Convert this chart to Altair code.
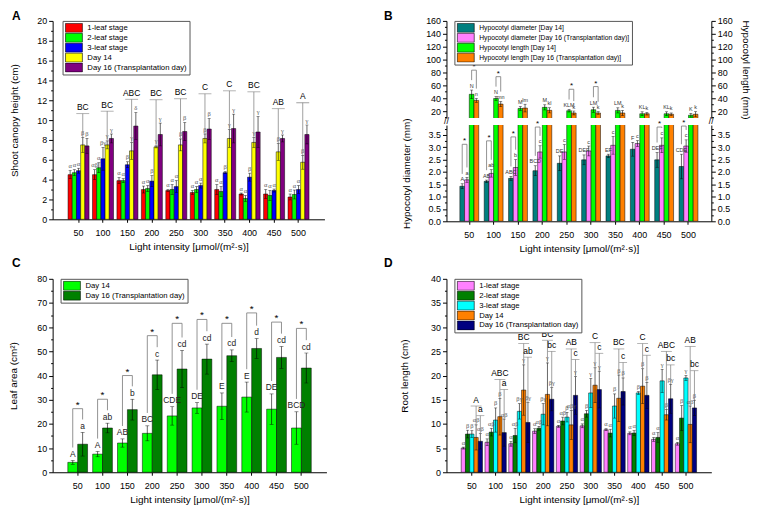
import altair as alt
import pandas as pd

FONT = "Liberation Sans"
GFONT = "Liberation Serif"
LIGHT = ["50", "100", "150", "200", "250", "300", "350", "400", "450", "500"]
X_TITLE = "Light intensity [μmol/(m²·s)]"
RECT = "M-1.7,-0.9L1.7,-0.9L1.7,0.9L-1.7,0.9Z"

# ---------------- Panel A : shoot canopy height ----------------
A_SERIES = ["1-leaf stage", "2-leaf stage", "3-leaf stage", "Day 14", "Day 16 (Transplantation day)"]
A_COLORS = ["#FF0000", "#00FF00", "#0000FF", "#FFFF00", "#800080"]
A_1LEAF = [4.5, 4.5, 3.9, 3.0, 2.9, 2.7, 3.0, 2.55, 2.55, 2.25]
A_1LEAF_ERR = [0.4, 0.5, 0.3, 0.35, 0.1, 0.2, 0.5, 0.1, 0.45, 0.3]
A_2LEAF = [4.7, 5.2, 3.9, 3.1, 3.0, 3.0, 2.8, 2.1, 2.4, 2.5]
A_2LEAF_ERR = [0.3, 0.5, 0.2, 0.3, 0.5, 0.3, 0.5, 0.3, 0.5, 0.45]
A_3LEAF = [4.9, 6.1, 5.5, 3.85, 3.3, 3.4, 4.7, 4.25, 2.9, 3.0]
A_3LEAF_ERR = [0.25, 1.15, 0.3, 0.55, 0.6, 0.25, 0.1, 0.4, 0.15, 0.4]
A_D14 = [7.5, 7.5, 6.9, 7.3, 7.5, 8.15, 8.15, 7.75, 6.8, 5.75]
A_D14_ERR = [0.75, 0.4, 0.85, 0.1, 0.6, 0.45, 0.9, 0.5, 0.85, 0.7]
A_D16 = [7.4, 8.15, 9.4, 8.55, 8.85, 9.1, 9.15, 8.8, 8.15, 8.55]
A_D16_ERR = [0.75, 0.45, 1.35, 1.15, 0.9, 1.05, 1.45, 1.55, 0.35, 0.95]
A_G_1LEAF = ["α", "αβ", "α", "α", "α", "α", "α", "α", "α", "α"]
A_G_2LEAF = ["α", "α", "α", "α", "α", "α", "α", "α", "α", "α"]
A_G_3LEAF = ["α", "βγ", "β", "β", "α", "α", "β", "β", "α", "α"]
A_G_D14 = ["β", "γ", "γ", "γ", "β", "β", "γ", "γ", "β", "β"]
A_G_D16 = ["β", "γ", "δ", "γ", "β", "β", "γ", "γ", "γ", "γ"]
A_GROUP = ["BC", "BC", "ABC", "BC", "BC", "C", "C", "BC", "AB", "A"]
A_GROUP_TOP = [10.65, 10.9, 12.1, 12.05, 12.15, 12.65, 12.95, 12.85, 11.15, 11.75]

# ---------------- Panel B : hypocotyl diameter / length ----------------
B_SERIES = ["Hypocotyl diameter [Day 14]", "Hypocotyl diameter [Day 16 (Transplantation day)]",
            "Hypocotyl length [Day 14]", "Hypocotyl length [Day 16 (Transplantation day)]"]
B_COLORS = ["#007F7F", "#FF80FF", "#00FF00", "#FF8000"]
B_DIAM14 = [1.42, 1.62, 1.74, 2.05, 2.35, 2.49, 2.65, 2.92, 2.49, 2.22]
B_DIAM14_ERR = [0.1, 0.05, 0.08, 0.2, 0.3, 0.2, 0.07, 0.28, 0.3, 0.5]
B_DIAM16 = [1.68, 1.94, 2.18, 2.81, 2.81, 2.85, 3.08, 3.15, 3.08, 3.05]
B_DIAM16_ERR = [0.1, 0.15, 0.32, 0.25, 0.3, 0.2, 0.36, 0.12, 0.3, 0.25]
B_LEN14 = [46.0, 39.5, 24.0, 25.7, 20.5, 22.0, 21.0, 15.8, 15.8, 13.5]
B_LEN14_ERR = [6.6, 3.0, 3.0, 4.0, 2.0, 4.0, 4.0, 3.0, 3.0, 3.0]
B_LEN16 = [36.5, 30.8, 24.6, 21.1, 17.0, 17.0, 17.0, 15.8, 15.0, 15.0]
B_LEN16_ERR = [3.0, 4.0, 6.0, 4.0, 3.0, 2.0, 4.0, 2.0, 2.0, 4.0]
B_LAB_D14 = ["A", "AB", "ABC", "BCD", "DE", "DEF", "EF", "F", "DEF", "CDE"]
B_LAB_D16 = ["a", "ab", "b", "c", "c", "c", "c", "c", "c", "c"]
B_LAB_L14 = ["N", "N", "M", "M", "KLM", "LM", "LM", "KL", "KL", "K"]
B_LAB_L16 = ["n", "mn", "lm", "kl", "k", "k", "k", "k", "k", "k"]
B_SIG_DIAM_AT = ["50", "100", "150", "200", "450", "500"]
B_SIG_DIAM_TOP = [3.12, 3.26, 3.42, 3.82, 3.82, 3.86]
B_SIG_LEN_AT = ["50", "100", "250", "300"]
B_SIG_LEN_TOP = [83.5, 73.4, 53.8, 58.0]

# ---------------- Panel C : leaf area ----------------
C_SERIES = ["Day 14", "Day 16 (Transplantation day)"]
C_COLORS = ["#00FF00", "#008000"]
C_D14 = [4.1, 7.5, 12.1, 16.1, 23.3, 26.6, 27.3, 31.1, 26.1, 18.3]
C_D14_ERR = [0.8, 1.1, 1.7, 3.1, 3.8, 2.2, 5.5, 6.2, 6.3, 6.7]
C_D16 = [11.6, 18.3, 25.9, 40.3, 42.7, 46.8, 48.2, 51.2, 47.5, 43.1]
C_D16_ERR = [4.9, 2.0, 4.3, 6.1, 7.7, 6.2, 2.4, 4.1, 4.5, 6.2]
C_LAB14 = ["A", "A", "AB", "BC", "CDE", "DE", "E", "E", "DE", "BCD"]
C_LAB16 = ["a", "ab", "b", "c", "cd", "cd", "cd", "d", "cd", "cd"]
C_SIG_TOP = [26.3, 30.2, 40.0, 56.5, 61.6, 63.2, 61.6, 65.9, 62.1, 59.5]

# ---------------- Panel D : root length ----------------
D_SERIES = ["1-leaf stage", "2-leaf stage", "3-leaf stage", "Day 14", "Day 16 (Transplantation day)"]
D_COLORS = ["#FF80FF", "#008000", "#00FFFF", "#FF8000", "#000080"]
D_1LEAF = [5.0, 6.2, 5.9, 8.5, 9.5, 9.6, 8.8, 8.05, 6.8, 5.9]
D_1LEAF_ERR = [0.2, 0.7, 0.5, 0.5, 0.2, 0.4, 0.2, 0.3, 0.4, 0.3]
D_2LEAF = [7.9, 8.3, 7.6, 9.1, 10.6, 12.1, 8.1, 8.1, 7.2, 11.2]
D_2LEAF_ERR = [0.8, 0.8, 1.5, 0.4, 0.8, 0.7, 0.8, 0.5, 1.0, 2.6]
D_3LEAF = [7.9, 10.8, 12.6, 12.0, 11.4, 16.4, 13.7, 16.4, 18.9, 19.5]
D_3LEAF_ERR = [0.7, 2.5, 1.6, 2.2, 1.0, 3.0, 2.5, 0.3, 2.4, 0.5]
D_D14 = [7.2, 11.5, 17.0, 16.1, 9.8, 18.0, 15.3, 17.8, 11.9, 9.9]
D_D14_ERR = [2.6, 3.8, 5.2, 6.5, 3.0, 3.6, 4.8, 3.6, 1.1, 3.8]
D_D16 = [6.4, 8.2, 10.3, 15.1, 15.9, 17.1, 16.7, 15.9, 15.2, 13.3]
D_D16_ERR = [1.6, 2.8, 4.1, 2.4, 3.9, 3.8, 2.8, 2.7, 3.0, 1.6]
D_G_1LEAF = ["α", "α", "α", "α", "α", "α", "α", "α", "α", "α"]
D_G_2LEAF = ["β", "αβ", "αβ", "αβ", "αβ", "β", "α", "α", "α", "β"]
D_G_3LEAF = ["β", "β", "βγ", "βγ", "β", "γ", "β", "β", "γ", "γ"]
D_G_D14 = ["αβ", "β", "γ", "γ", "αβγ", "γ", "β", "β", "β", "αβ"]
D_G_D16 = ["αβ", "αβ", "βγ", "βγ", "γ", "γ", "β", "β", "βγ", "β"]
D_UPPER = ["A", "ABC", "BC", "BC", "AB", "C", "BC", "C", "ABC", "AB"]
D_UPPER_TOP = [13.7, 19.2, 26.6, 27.3, 25.5, 26.8, 25.5, 26.6, 25.0, 26.0]
D_LOWER = ["a", "a", "ab", "bc", "c", "c", "c", "c", "bc", "bc"]
D_LOWER_TOP = [11.7, 17.1, 23.8, 25.0, 23.3, 24.6, 22.7, 24.2, 22.2, 21.0]

LINE_GRAY = "#777777"
GREEK_GRAY = "#555555"


def long_df(series, means, errs, labels):
    rows = []
    for s, m, e, lab in zip(series, means, errs, labels):
        for i, L in enumerate(LIGHT):
            rows.append({"light": L, "series": s, "mean": m[i],
                         "lo": m[i] - e[i], "hi": m[i] + e[i], "label": lab[i]})
    return pd.DataFrame(rows)


class Panel:
    """Shared encodings for one panel so every layer merges into the same axes."""

    def __init__(self, series, pin, pout, yscale, xaxis, yaxis):
        self.series = series
        self.pin, self.pout = pin, pout
        self.yscale = yscale
        self.xaxis, self.yaxis = xaxis, yaxis

    def X(self):
        return alt.X("light:N", sort=LIGHT,
                     scale=alt.Scale(domain=LIGHT, paddingInner=self.pin, paddingOuter=self.pout),
                     axis=self.xaxis)

    def XO(self):
        return alt.XOffset("series:N", sort=self.series,
                           scale=alt.Scale(domain=self.series, paddingInner=0, paddingOuter=0))

    def Y(self, field):
        return alt.Y(field + ":Q", scale=self.yscale, axis=self.yaxis)


def x_axis():
    return alt.Axis(title=X_TITLE, labelAngle=0, tickSize=3, labelPadding=6,
                    titlePadding=4, labelFontSize=9, titleFontSize=10)


def y_axis(title, lo, hi, major, minor, title_pad, fmt="", orient="left"):
    n = int(round((hi - lo) / minor)) + 1
    values = [round(lo + i * minor, 4) for i in range(n)]
    test = f"abs(datum.value / {major} - round(datum.value / {major})) < 0.001"
    kw = dict(title=title, values=values, orient=orient, labelFontSize=9,
              tickSize={"condition": {"test": test, "value": 4}, "value": 2},
              labelExpr=f"({test}) ? datum.label : ''", labelOverlap=False,
              titleFontSize=10, titlePadding=title_pad, labelPadding=2)
    if fmt:
        kw["format"] = fmt
    return alt.Axis(**kw)


def legend(x, y, size):
    return alt.Legend(title=None, orient="none", legendX=x, legendY=y,
                      strokeColor="#555555", fillColor="white", padding=2,
                      symbolType=RECT, symbolSize=100, symbolStrokeColor="black",
                      symbolStrokeWidth=0.6, labelFontSize=size, labelFont=FONT,
                      rowPadding=0, clipHeight=10, symbolOffset=4, labelOffset=8,
                      labelLimit=400, symbolOpacity=1)


def bars_layer(p, df, colors, leg, clip):
    return alt.Chart(df).mark_bar(stroke="black", strokeWidth=0.5, clip=clip).encode(
        x=p.X(), xOffset=p.XO(), y=p.Y("mean"),
        color=alt.Color("series:N", sort=p.series,
                        scale=alt.Scale(domain=p.series, range=colors), legend=leg))


def err_layers(p, df, cap, label_size, label_font, label_color):
    base = alt.Chart(df)
    rule = base.mark_rule(color="black", strokeWidth=0.6).encode(
        x=p.X(), xOffset=p.XO(), y=p.Y("lo"), y2="hi:Q")
    cap_hi = base.mark_tick(color="black", thickness=0.6, size=cap).encode(
        x=p.X(), xOffset=p.XO(), y=p.Y("hi"))
    cap_lo = base.mark_tick(color="black", thickness=0.6, size=cap).encode(
        x=p.X(), xOffset=p.XO(), y=p.Y("lo"))
    txt = base.mark_text(baseline="bottom", dy=-1.5, fontSize=label_size,
                         font=label_font, color=label_color).encode(
        x=p.X(), xOffset=p.XO(), y=p.Y("hi"), text="label:N")
    return [rule, cap_hi, cap_lo, txt]


def tshape_layers(p, ser, lows, tops, labels, cap, size):
    df = pd.DataFrame({"light": LIGHT, "series": [ser] * len(LIGHT),
                       "lo": lows, "hi": tops, "label": labels})
    base = alt.Chart(df)
    rule = base.mark_rule(color=LINE_GRAY, strokeWidth=0.7).encode(
        x=p.X(), xOffset=p.XO(), y=p.Y("lo"), y2="hi:Q")
    tick = base.mark_tick(color=LINE_GRAY, thickness=0.8, size=cap).encode(
        x=p.X(), xOffset=p.XO(), y=p.Y("hi"))
    txt = base.mark_text(baseline="bottom", dy=-1.5, fontSize=size, font=FONT,
                         color="black").encode(
        x=p.X(), xOffset=p.XO(), y=p.Y("hi"), text="label:N")
    return [rule, tick, txt]


def bracket_layers(p, lights, s_left, s_right, low_left, low_right, tops, star_dx, star_size):
    rows = []
    for i, L in enumerate(lights):
        rows += [
            {"light": L, "series": s_left, "y": low_left[i], "k": 0},
            {"light": L, "series": s_left, "y": tops[i], "k": 1},
            {"light": L, "series": s_right, "y": tops[i], "k": 2},
            {"light": L, "series": s_right, "y": low_right[i], "k": 3},
        ]
    df = pd.DataFrame(rows)
    line = alt.Chart(df).mark_line(color=LINE_GRAY, strokeWidth=0.8).encode(
        x=p.X(), xOffset=p.XO(), y=p.Y("y"), detail="light:N", order="k:Q")
    sdf = pd.DataFrame({"light": lights, "series": [s_left] * len(lights),
                        "y": tops, "t": ["*"] * len(lights)})
    star = alt.Chart(sdf).mark_text(baseline="bottom", dy=1, dx=star_dx,
                                    fontSize=star_size, font=FONT, color="black").encode(
        x=p.X(), xOffset=p.XO(), y=p.Y("y"), text="t:N")
    return [line, star]


def letter(ch, x, y):
    return alt.Chart(pd.DataFrame({"t": [ch]})).mark_text(
        fontSize=12, fontWeight="bold", align="left", baseline="alphabetic",
        font=FONT, color="black").encode(x=alt.value(x), y=alt.value(y), text="t:N")


def bar_width(width, pin, pout, n):
    step = width / (10 - pin + 2 * pout)
    return step * (1 - pin) / n


# ================= Panel A =================
A_W, A_H = 274, 200
pA = Panel(A_SERIES, 0.14, 0.63, alt.Scale(domain=[0, 20], nice=False, zero=True),
           x_axis(), y_axis("Shoot canopy height (cm)", 0, 20, 2, 1, 17))
dfA = long_df(A_SERIES, [A_1LEAF, A_2LEAF, A_3LEAF, A_D14, A_D16],
              [A_1LEAF_ERR, A_2LEAF_ERR, A_3LEAF_ERR, A_D14_ERR, A_D16_ERR],
              [A_G_1LEAF, A_G_2LEAF, A_G_3LEAF, A_G_D14, A_G_D16])
a_layers = [bars_layer(pA, dfA, A_COLORS, legend(10, 0, 7.8), False)]
a_layers += err_layers(pA, dfA, 3, 6.5, GFONT, GREEK_GRAY)
a_layers += tshape_layers(pA, "Day 14", [m + e for m, e in zip(A_D14, A_D14_ERR)],
                          A_GROUP_TOP, A_GROUP, 13, 8.5)
a_layers.append(letter("A", -41, -1))
panelA = alt.layer(*a_layers).properties(width=A_W, height=A_H)

# ================= Panel B =================
B_W = 267
B_TOP_H, B_BOT_H = 98, 97
B_PIN, B_POUT = 0.226, 0.55
b_bw = bar_width(B_W, B_PIN, B_POUT, 4)
b_top_scale = alt.Scale(domain=[9, 160], nice=False, zero=False)
b_bot_scale = alt.Scale(domain=[0, 3.9], nice=False, zero=True)
pBt = Panel(B_SERIES, B_PIN, B_POUT, b_top_scale, None, y_axis(None, 10, 160, 20, 10, 10))
pBb = Panel(B_SERIES, B_PIN, B_POUT, b_bot_scale, x_axis(),
            y_axis("Hypocotyl diameter (mm)", 0, 3.75, 0.5, 0.25, 17, fmt=".1f"))
dfB = long_df(B_SERIES, [B_DIAM14, B_DIAM16, B_LEN14, B_LEN16],
              [B_DIAM14_ERR, B_DIAM16_ERR, B_LEN14_ERR, B_LEN16_ERR],
              [B_LAB_D14, B_LAB_D16, B_LAB_L14, B_LAB_L16])
dfB_diam = dfB[dfB["series"].isin(B_SERIES[:2])]
dfB_len = dfB[dfB["series"].isin(B_SERIES[2:])]

# top section: hypocotyl length
bt_layers = [bars_layer(pBt, dfB_len, B_COLORS, legend(8, 0, 6.8), True)]
bt_layers += err_layers(pBt, dfB_len, 3, 5.5, FONT, "#333333")
top_ppu = B_TOP_H / (160 - 9)
len14_hi = dict(zip(LIGHT, [m + e for m, e in zip(B_LEN14, B_LEN14_ERR)]))
len16_hi = dict(zip(LIGHT, [m + e for m, e in zip(B_LEN16, B_LEN16_ERR)]))
bt_layers += bracket_layers(pBt, B_SIG_LEN_AT, B_SERIES[2], B_SERIES[3],
                            [len14_hi[L] + 10 / top_ppu for L in B_SIG_LEN_AT],
                            [len16_hi[L] + 10 / top_ppu for L in B_SIG_LEN_AT],
                            B_SIG_LEN_TOP, b_bw / 2, 8)
bt_layers.append(letter("B", -63, -1))
right_top = alt.Chart(dfB_len).mark_point(opacity=0).encode(
    y=alt.Y("mean:Q", scale=b_top_scale,
            axis=y_axis("Hypocotyl length (mm)", 10, 160, 20, 10, 8, orient="right")))
panelB_top = alt.layer(alt.layer(*bt_layers), right_top).resolve_scale(
    y="independent").resolve_axis(y="independent").properties(width=B_W, height=B_TOP_H)

# bottom section: hypocotyl diameter
bb_layers = [bars_layer(pBb, dfB, B_COLORS, None, True)]
bb_layers += err_layers(pBb, dfB_diam, 3, 5.5, FONT, "#333333")
bot_ppu = B_BOT_H / 3.9
d14_hi = dict(zip(LIGHT, [m + e for m, e in zip(B_DIAM14, B_DIAM14_ERR)]))
d16_hi = dict(zip(LIGHT, [m + e for m, e in zip(B_DIAM16, B_DIAM16_ERR)]))
bb_layers += bracket_layers(pBb, B_SIG_DIAM_AT, B_SERIES[0], B_SERIES[1],
                            [d14_hi[L] + 10 / bot_ppu for L in B_SIG_DIAM_AT],
                            [d16_hi[L] + 10 / bot_ppu for L in B_SIG_DIAM_AT],
                            B_SIG_DIAM_TOP, b_bw / 2, 8)
brk = pd.DataFrame({"t": ["//"]})
for xpos in (0, B_W):
    bb_layers.append(alt.Chart(brk).mark_text(
        fontSize=9, font=FONT, color="black", baseline="middle").encode(
        x=alt.value(xpos), y=alt.value(-4), text="t:N"))
right_bot = alt.Chart(dfB_diam).mark_point(opacity=0).encode(
    y=alt.Y("mean:Q", scale=b_bot_scale,
            axis=y_axis(None, 0, 3.75, 0.5, 0.25, 8, fmt=".1f", orient="right")))
panelB_bot = alt.layer(alt.layer(*bb_layers), right_bot).resolve_scale(
    y="independent").resolve_axis(y="independent").properties(width=B_W, height=B_BOT_H)

panelB = alt.vconcat(panelB_top, panelB_bot, spacing=7, bounds="flush").resolve_scale(
    x="independent", y="independent", color="independent", xOffset="independent"
).resolve_legend(color="independent")

# ================= Panel C =================
C_W, C_H = 276, 195
C_PIN, C_POUT = 0.205, 0.61
c_bw = bar_width(C_W, C_PIN, C_POUT, 2)
pC = Panel(C_SERIES, C_PIN, C_POUT, alt.Scale(domain=[0, 80], nice=False, zero=True),
           x_axis(), y_axis("Leaf area (cm²)", 0, 80, 10, 5, 18))
dfC = long_df(C_SERIES, [C_D14, C_D16], [C_D14_ERR, C_D16_ERR], [C_LAB14, C_LAB16])
c_layers = [bars_layer(pC, dfC, C_COLORS, legend(8, 0, 7.8), False)]
c_layers += err_layers(pC, dfC, 4, 8.5, FONT, "#222222")
c_ppu = C_H / 80
c_layers += bracket_layers(pC, LIGHT, C_SERIES[0], C_SERIES[1],
                           [m + e + 13 / c_ppu for m, e in zip(C_D14, C_D14_ERR)],
                           [m + e + 13 / c_ppu for m, e in zip(C_D16, C_D16_ERR)],
                           C_SIG_TOP, c_bw / 2, 10)
c_layers.append(letter("C", -41, -12))
panelC = alt.layer(*c_layers).properties(width=C_W, height=C_H)

# ================= Panel D =================
D_W, D_H = 267, 195
pD = Panel(D_SERIES, 0.105, 0.62, alt.Scale(domain=[0, 40], nice=False, zero=True),
           x_axis(), y_axis("Root length (cm)", 0, 40, 5, 2.5, 21))
dfD = long_df(D_SERIES, [D_1LEAF, D_2LEAF, D_3LEAF, D_D14, D_D16],
              [D_1LEAF_ERR, D_2LEAF_ERR, D_3LEAF_ERR, D_D14_ERR, D_D16_ERR],
              [D_G_1LEAF, D_G_2LEAF, D_G_3LEAF, D_G_D14, D_G_D16])
d_layers = [bars_layer(pD, dfD, D_COLORS, legend(8, 0, 7.8), False)]
d_layers += err_layers(pD, dfD, 3, 6.5, GFONT, GREEK_GRAY)
d_layers += tshape_layers(pD, "Day 14", [m + e for m, e in zip(D_D14, D_D14_ERR)],
                          D_UPPER_TOP, D_UPPER, 11, 8.5)
d_layers += tshape_layers(pD, "Day 16 (Transplantation day)",
                          [m + e for m, e in zip(D_D16, D_D16_ERR)],
                          D_LOWER_TOP, D_LOWER, 8, 8.5)
d_layers.append(letter("D", -63, -12))
panelD = alt.layer(*d_layers).properties(width=D_W, height=D_H)


def indep(c):
    return c.resolve_scale(x="independent", y="independent", color="independent",
                           xOffset="independent").resolve_legend(color="independent")


top_row = indep(alt.hconcat(panelA, panelB, spacing=60))
bottom_row = indep(alt.hconcat(panelC, panelD, spacing=58))
chart = indep(alt.vconcat(top_row, bottom_row, spacing=4)).properties(
    padding={"left": 0, "top": 0, "right": 0, "bottom": 0}
).configure_view(stroke=None).configure_axis(
    domainColor="black", tickColor="black", labelColor="black", titleColor="black",
    labelFont=FONT, titleFont=FONT, titleFontWeight="normal", grid=False,
    domainWidth=1, tickWidth=1
).configure_text(font=FONT)

chart.save("out.html", embed_options={"renderer": "svg", "actions": False})
